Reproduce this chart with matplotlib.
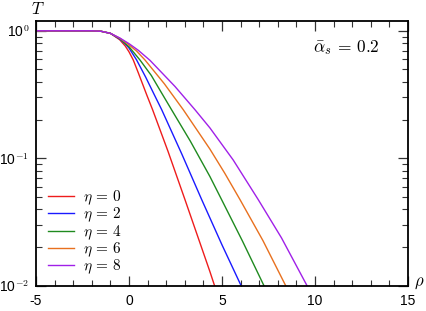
import matplotlib
matplotlib.use("Agg")
import matplotlib.pyplot as plt
from matplotlib.ticker import LogLocator, FixedLocator, NullFormatter

plt.rcParams['mathtext.fontset'] = 'cm'
plt.rcParams['font.family'] = ['Liberation Sans', 'DejaVu Sans']

etas = [0, 2, 4, 6, 8]
colors = ['#ee1c1c', '#1a1aff', '#1f8a1f', '#e8701e', '#a020e8']

x_ticks = [-5, 0, 5, 10, 15]
x_ticklabels = ['-5', '0', '5', '10', '15']
y_ticks = [0.01, 0.1, 1.0]
y_ticklabels = [r'10$^{-2}$', r'10$^{-1}$', r'10$^{0}$']

rho_eta0 = [-5, -2, -1.5, -1.0, -0.5, -0.2, 0.0, 0.23, 0.5, 0.95, 1.27, 2.1, 3.01, 4.35, 4.63]
T_eta0 = [1.0, 1.0, 0.991, 0.955, 0.851, 0.759, 0.684, 0.590, 0.468, 0.315, 0.240, 0.113, 0.0473, 0.0129, 0.0097]

rho_eta2 = [-5, -2, -1.5, -1.0, -0.5, -0.2, 0.0, 0.41, 0.9, 1.36, 1.76, 2.85, 3.91, 5.0, 6.07]
T_eta2 = [1.0, 1.0, 0.991, 0.955, 0.861, 0.789, 0.733, 0.590, 0.432, 0.315, 0.240, 0.107, 0.0473, 0.0209, 0.0097]

rho_eta4 = [-5, -2, -1.5, -1.0, -0.5, 0.0, 0.59, 1.2, 1.76, 2.29, 3.3, 4.35, 4.98, 6.1, 7.3]
T_eta4 = [1.0, 1.0, 0.991, 0.955, 0.867, 0.750, 0.590, 0.446, 0.324, 0.240, 0.136, 0.0719, 0.0473, 0.0224, 0.0097]

rho_eta6 = [-5, -2, -1.5, -1.0, -0.5, 0.0, 0.4, 0.86, 1.9, 2.92, 4.35, 5.15, 5.97, 7.2, 8.47]
T_eta6 = [1.0, 1.0, 0.991, 0.955, 0.875, 0.776, 0.695, 0.590, 0.384, 0.240, 0.118, 0.0762, 0.0473, 0.0226, 0.0097]

rho_eta8 = [-5, -2, -1.5, -1.0, -0.5, 0.0, 0.5, 1.13, 2.47, 3.55, 4.35, 5.6, 6.95, 8.2, 9.62]
T_eta8 = [1.0, 1.0, 0.991, 0.955, 0.879, 0.793, 0.703, 0.586, 0.366, 0.240, 0.173, 0.0970, 0.0473, 0.0237, 0.0097]

series = [(rho_eta0, T_eta0), (rho_eta2, T_eta2), (rho_eta4, T_eta4),
          (rho_eta6, T_eta6), (rho_eta8, T_eta8)]

fig = plt.figure(figsize=(4.26, 3.11), dpi=100)
ax = fig.add_axes([36/426, 1 - 285.7/311, (408-36)/426, (285.7-20.7)/311])

for (r, t), eta, c in zip(series, etas, colors):
    ax.plot(r, t, color=c, lw=1.0, label=r'$\eta\,=\,%d$' % eta)

ax.set_yscale('log')
ax.set_xlim(-5, 15)
ax.set_ylim(0.01, 1.2)

ax.xaxis.set_major_locator(FixedLocator(x_ticks))
ax.xaxis.set_minor_locator(FixedLocator([v for v in range(-5, 16) if v % 5 != 0]))
ax.set_xticklabels(x_ticklabels)
ax.yaxis.set_major_locator(FixedLocator(y_ticks))
ax.yaxis.set_minor_locator(LogLocator(base=10, subs=range(2, 10)))
ax.yaxis.set_minor_formatter(NullFormatter())
ax.set_yticklabels(y_ticklabels)

ax.tick_params(which='both', direction='in', top=True, right=True, labelsize=10, color='#333333')
ax.tick_params(which='major', length=7, width=0.9, pad=6)
ax.tick_params(axis='y', which='major', pad=5)
ax.tick_params(which='minor', length=4, width=0.8)
for s in ax.spines.values():
    s.set_linewidth(1.3)

fig.text(38/426, 1 - 9/311, r'$T$', fontsize=12, ha='center', va='center')
fig.text(419/426, 1 - 283/311, r'$\rho$', fontsize=12, ha='center', va='center')
ax.text(0.923, 0.9, r'$\bar{\alpha}_s\,=\,0.2$', transform=ax.transAxes, fontsize=12.5,
        ha='right', va='center')

leg = ax.legend(loc='lower left', bbox_to_anchor=(0.017, 0.012), frameon=False,
                fontsize=11, handlelength=1.65, handletextpad=0.6, labelspacing=-0.07,
                borderaxespad=0.0)

fig.savefig('out.png', dpi=100)
